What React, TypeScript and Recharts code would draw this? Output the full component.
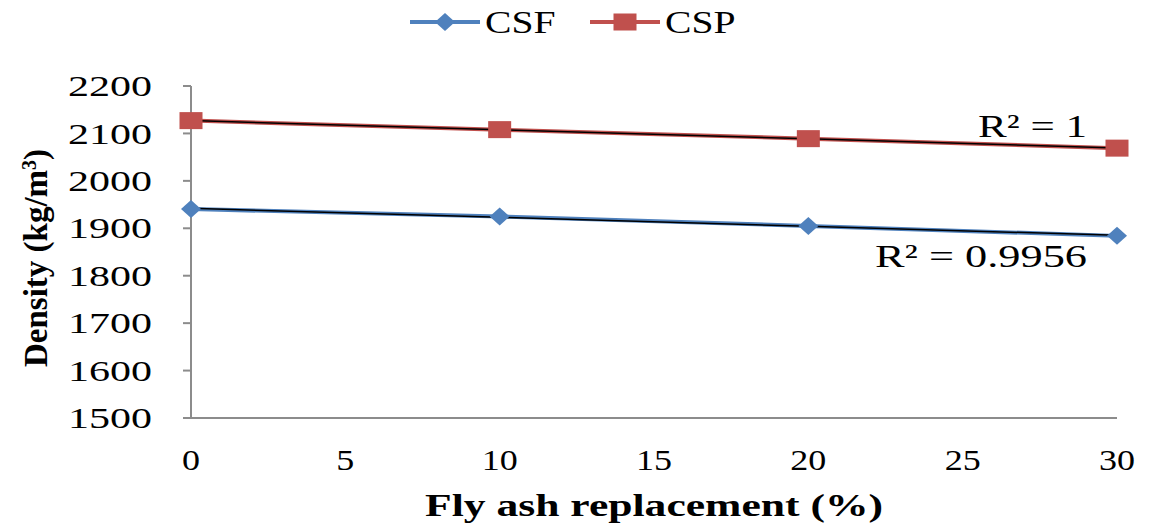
import React from 'react';
import { LineChart, Line, XAxis, YAxis, Label, LabelList } from 'recharts';

const replacement = [0, 10, 20, 30];
const csfDensity = [1940.5, 1925, 1905, 1884];
const cspDensity = [2127, 2108, 2089, 2069];
const csfR2 = 'R² = 0.9956';
const cspR2 = 'R² = 1';
const xTicks = [0, 5, 10, 15, 20, 25, 30];
const yTicks = [1500, 1600, 1700, 1800, 1900, 2000, 2100, 2200];

const CSF_COLOR = '#4f81bd';
const CSP_COLOR = '#c0504d';
const AXIS_COLOR = '#8c8c8c';
const FONT = '"Liberation Serif", "Times New Roman", serif';

// least-squares fit, used for the black trendlines
function linearFit(xs: number[], ys: number[]) {
  const n = xs.length;
  const mx = xs.reduce((a, b) => a + b, 0) / n;
  const my = ys.reduce((a, b) => a + b, 0) / n;
  let sxy = 0;
  let sxx = 0;
  xs.forEach((x, i) => {
    sxy += (x - mx) * (ys[i] - my);
    sxx += (x - mx) * (x - mx);
  });
  const slope = sxy / sxx;
  return (x: number) => my + slope * (x - mx);
}

const csfFit = linearFit(replacement, csfDensity);
const cspFit = linearFit(replacement, cspDensity);

const data = replacement.map((x, i) => ({
  x,
  csf: csfDensity[i],
  csp: cspDensity[i],
  csfTrend: csfFit(x),
  cspTrend: cspFit(x),
}));

const Diamond = (props: any) => {
  const { cx, cy } = props;
  if (cx == null || cy == null) return null;
  return (
    <polygon
      points={`${cx - 10},${cy} ${cx},${cy - 9} ${cx + 10},${cy} ${cx},${cy + 9}`}
      fill={CSF_COLOR}
    />
  );
};

const Square = (props: any) => {
  const { cx, cy } = props;
  if (cx == null || cy == null) return null;
  return <rect x={cx - 11.5} y={cy - 8.5} width={23} height={17} fill={CSP_COLOR} />;
};

const YTick = (props: any) => {
  const { x, y, payload } = props;
  const s = String(payload.value);
  return (
    <text
      x={x}
      y={y}
      dy="0.35em"
      textAnchor="end"
      fontFamily={FONT}
      fontSize={29}
      fill="#000"
      textLength={s.length * 21}
      lengthAdjust="spacingAndGlyphs"
    >
      {s}
    </text>
  );
};

const XTick = (props: any) => {
  const { x, y, payload } = props;
  const s = String(payload.value);
  return (
    <text
      x={x}
      y={y}
      dy="0.71em"
      textAnchor="middle"
      fontFamily={FONT}
      fontSize={30}
      fill="#000"
      textLength={s.length * 18}
      lengthAdjust="spacingAndGlyphs"
    >
      {s}
    </text>
  );
};

const YTitle = (props: any) => {
  const { viewBox } = props;
  const cx = viewBox.x + 35;
  const cy = viewBox.y + viewBox.height / 2 + 6;
  return (
    <text
      x={cx}
      y={cy}
      transform={`rotate(-90 ${cx} ${cy})`}
      textAnchor="middle"
      dy="0.35em"
      fontFamily={FONT}
      fontWeight="bold"
      fontSize={33}
      fill="#000"
    >
      Density (kg/m<tspan baselineShift="super" fontSize={20}>3</tspan>)
    </text>
  );
};

const XTitle = (props: any) => {
  const { viewBox } = props;
  return (
    <text
      x={viewBox.x + viewBox.width / 2}
      y={viewBox.y + 98}
      textAnchor="middle"
      fontFamily={FONT}
      fontWeight="bold"
      fontSize={32}
      fill="#000"
      textLength={458}
      lengthAdjust="spacingAndGlyphs"
    >
      Fly ash  replacement (%)
    </text>
  );
};

// R² text next to the last point of each trendline
const r2Label = (text: string, dx: number, dy: number, width: number) => (props: any) => {
  const { x, y, index } = props;
  if (index !== replacement.length - 1) return null;
  return (
    <text
      x={x + dx}
      y={y + dy}
      textAnchor="end"
      fontFamily={FONT}
      fontSize={32}
      fill="#000"
      textLength={width}
      lengthAdjust="spacingAndGlyphs"
    >
      {text}
    </text>
  );
};

const legendItems = [
  { name: 'CSF', color: CSF_COLOR, marker: 'diamond' },
  { name: 'CSP', color: CSP_COLOR, marker: 'square' },
];

function ChartLegend() {
  return (
    <svg width={1149} height={50} style={{ position: 'absolute', left: 0, top: 0 }}>
      {legendItems.map((item, i) => {
        const x0 = 410 + i * 180;
        const cx = x0 + 35;
        const cy = 22;
        return (
          <g key={item.name}>
            <line x1={x0} y1={cy} x2={x0 + 70} y2={cy} stroke={item.color} strokeWidth={4} />
            {item.marker === 'diamond' ? (
              <Diamond cx={cx} cy={cy} />
            ) : (
              <Square cx={cx} cy={cy} />
            )}
            <text
              x={x0 + 75}
              y={cy + 11}
              fontFamily={FONT}
              fontSize={32}
              fill="#000"
              textLength={item.name.length * 23.5}
              lengthAdjust="spacingAndGlyphs"
            >
              {item.name}
            </text>
          </g>
        );
      })}
    </svg>
  );
}

export default function App() {
  return (
    <div style={{ position: 'absolute', left: 0, top: 0, width: 1149, height: 528, background: '#fff' }}>
      <LineChart width={1149} height={528} data={data} margin={{ top: 86, right: 32, bottom: 0, left: 0 }}>
        <XAxis
          dataKey="x"
          type="number"
          domain={[0, 30]}
          ticks={xTicks}
          height={110}
          tickLine={false}
          tickSize={0}
          tickMargin={31}
          axisLine={{ stroke: AXIS_COLOR, strokeWidth: 2 }}
          tick={<XTick />}
        >
          <Label content={<XTitle />} />
        </XAxis>
        <YAxis
          type="number"
          domain={[1500, 2200]}
          ticks={yTicks}
          width={191}
          tickSize={8}
          tickMargin={31}
          tickLine={{ stroke: AXIS_COLOR, strokeWidth: 2 }}
          axisLine={{ stroke: AXIS_COLOR, strokeWidth: 2 }}
          tick={<YTick />}
        >
          <Label content={<YTitle />} />
        </YAxis>
        <Line
          dataKey="csf"
          stroke={CSF_COLOR}
          strokeWidth={4}
          type="linear"
          dot={<Diamond />}
          activeDot={false}
          isAnimationActive={false}
        />
        <Line
          dataKey="csp"
          stroke={CSP_COLOR}
          strokeWidth={4}
          type="linear"
          dot={<Square />}
          activeDot={false}
          isAnimationActive={false}
        />
        <Line
          dataKey="csfTrend"
          stroke="#000"
          strokeWidth={1.5}
          type="linear"
          dot={false}
          activeDot={false}
          isAnimationActive={false}
        >
          <LabelList content={r2Label(csfR2, -30, 32, 212)} />
        </Line>
        <Line
          dataKey="cspTrend"
          stroke="#000"
          strokeWidth={1.5}
          type="linear"
          dot={false}
          activeDot={false}
          isAnimationActive={false}
        >
          <LabelList content={r2Label(cspR2, -30, -11, 109)} />
        </Line>
      </LineChart>
      <ChartLegend />
    </div>
  );
}
